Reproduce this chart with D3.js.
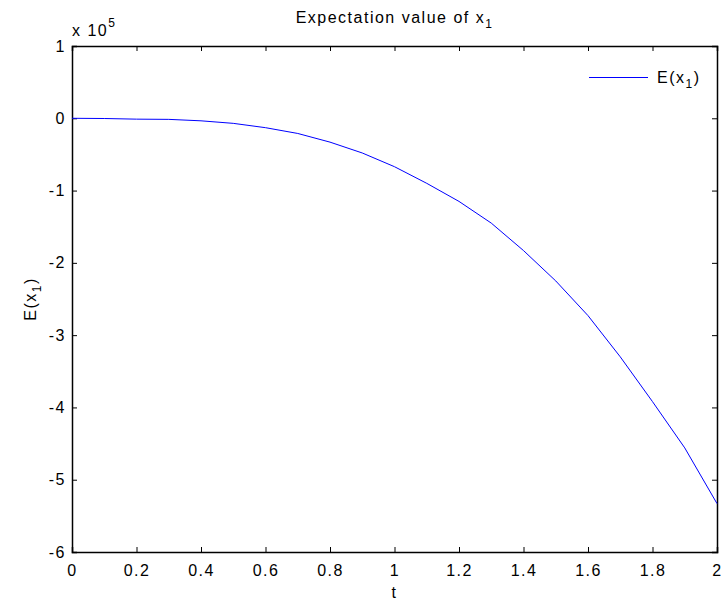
<!DOCTYPE html>
<html>
<head>
<meta charset="utf-8">
<script src="https://cdn.jsdelivr.net/npm/d3@7"></script>
<style>
body{margin:0;background:#fff;}
text{font-family:"Liberation Sans",Arial,sans-serif;fill:#000;letter-spacing:1.5px;}
</style>
</head>
<body>
<svg id="chart" width="725" height="603"></svg>
<script>
// dane (wartosci w jednostkach 10^5)
let tValues=[0,0.1,0.2,0.3,0.4,0.5,0.6,0.7,0.8,0.9,1.0,1.1,1.2,1.3,1.4,1.5,1.6,1.7,1.8,1.9,2.0];
let ex1=[0,-0.003,-0.012,-0.015,-0.035,-0.07,-0.13,-0.21,-0.33,-0.48,-0.67,-0.9,-1.15,-1.45,-1.83,-2.25,-2.73,-3.3,-3.92,-4.56,-5.33];
let xTicks=[0,0.2,0.4,0.6,0.8,1,1.2,1.4,1.6,1.8,2];
let yTicks=[1,0,-1,-2,-3,-4,-5,-6];
let seriesName="E(x";

var mLeft=72, mRight=717, mTop=46, mBottom=552;
var fs=16, fsSub=12;
var svg=d3.select("#chart");

var x=d3.scaleLinear().domain([0,2]).range([mLeft,mRight]);
var y=d3.scaleLinear().domain([-6,1]).range([mBottom,mTop]);

// osie z tickami do srodka, jak w matlabie
var gx=svg.append("g").attr("transform","translate(0,"+mBottom+")")
    .call(d3.axisBottom(x).tickValues(xTicks).tickSize(-5).tickPadding(13).tickFormat(d=>d));
var gxt=svg.append("g").attr("transform","translate(0,"+mTop+")")
    .call(d3.axisTop(x).tickValues(xTicks).tickSize(-5).tickFormat(""));
var gy=svg.append("g").attr("transform","translate("+mLeft+",0)")
    .call(d3.axisLeft(y).tickValues(yTicks).tickSize(-5).tickPadding(6).tickFormat(d=>d));
var gyr=svg.append("g").attr("transform","translate("+mRight+",0)")
    .call(d3.axisRight(y).tickValues(yTicks).tickSize(-5).tickFormat(""));

[gx,gxt,gy,gyr].forEach(function(g){
    g.select(".domain").attr("stroke","#000").attr("stroke-width",1.5);
    g.selectAll(".tick line").attr("stroke","#000");
    g.selectAll("text").attr("font-size",fs).attr("font-family","Liberation Sans, Arial, sans-serif").attr("fill","#000");
});

// linia
var line=d3.line().x((d,i)=>x(tValues[i])).y(d=>y(d));
svg.append("path").datum(ex1)
    .attr("d",line)
    .attr("fill","none")
    .attr("stroke","#0000ff")
    .attr("stroke-width",1);

// mnoznik osi y
var mult=svg.append("text").attr("x",mLeft).attr("y",36).attr("font-size",fs);
mult.append("tspan").text("x 10");
mult.append("tspan").attr("dy",-9).attr("font-size",fsSub).text("5");

// tytul
var title=svg.append("text").attr("x",(mLeft+mRight)/2).attr("y",23).attr("text-anchor","middle").attr("font-size",fs);
title.append("tspan").text("Expectation value of x");
title.append("tspan").attr("dy",5).attr("font-size",fsSub).text("1");

// etykiety osi
svg.append("text").attr("x",(mLeft+mRight)/2).attr("y",598).attr("text-anchor","middle").attr("font-size",fs).text("t");
var yl=svg.append("text").attr("transform","translate(36,"+((mTop+mBottom)/2)+") rotate(-90)")
    .attr("text-anchor","middle").attr("font-size",fs);
yl.append("tspan").text("E(x");
yl.append("tspan").attr("dy",5).attr("font-size",fsSub).text("1");
yl.append("tspan").attr("dy",-5).text(")");

// legenda
svg.append("line").attr("x1",589).attr("x2",648).attr("y1",77.5).attr("y2",77.5)
    .attr("stroke","#0000ff").attr("stroke-width",1);
var lg=svg.append("text").attr("x",657).attr("y",83).attr("font-size",fs);
lg.append("tspan").text(seriesName);
lg.append("tspan").attr("dy",5).attr("font-size",fsSub).text("1");
lg.append("tspan").attr("dy",-5).text(")");
</script>
</body>
</html>
